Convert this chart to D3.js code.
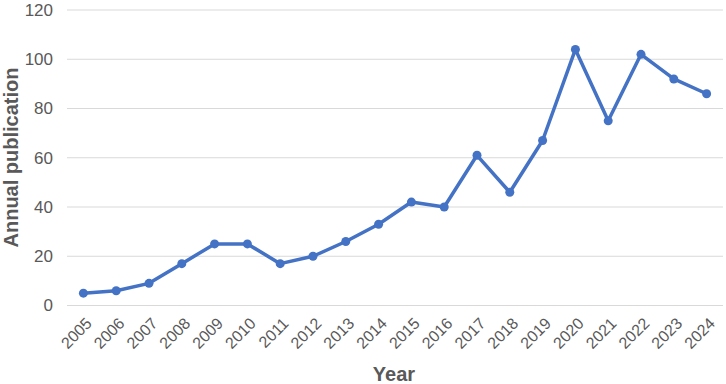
<!DOCTYPE html>
<html>
<head>
<meta charset="utf-8">
<script src="https://cdn.jsdelivr.net/npm/d3@7"></script>
<style>
  body { margin: 0; background: #fff; }
  svg { display: block; font-family: "Liberation Sans", Arial, sans-serif; }
</style>
</head>
<body>
<div id="chart"></div>
<script>
(function () {
  'use strict';

  var years = ['2005', '2006', '2007', '2008', '2009', '2010', '2011', '2012', '2013', '2014',
               '2015', '2016', '2017', '2018', '2019', '2020', '2021', '2022', '2023', '2024'];
  var publications = [5, 6, 9, 17, 25, 25, 17, 20, 26, 33, 42, 40, 61, 46, 67, 104, 75, 102, 92, 86];
  var yTicks = [0, 20, 40, 60, 80, 100, 120];

  var data = years.map(function (y, i) { return { year: y, value: publications[i] }; });

  var width = 726, height = 384;
  var margin = { top: 10, right: 3, bottom: 78.5, left: 67 };
  var iw = width - margin.left - margin.right;
  var ih = height - margin.top - margin.bottom;

  var x = d3.scalePoint().domain(years).range([0, iw]).padding(0.5);
  var y = d3.scaleLinear().domain([0, 120]).range([ih, 0]);

  var svg = d3.select('#chart').append('svg').attr('width', width).attr('height', height);
  var g = svg.append('g').attr('transform', 'translate(' + margin.left + ',' + margin.top + ')');

  // Gridlines
  g.selectAll('.grid').data(yTicks).enter().append('line')
    .attr('x1', 0).attr('x2', iw)
    .attr('y1', function (d) { return y(d); }).attr('y2', function (d) { return y(d); })
    .attr('stroke', '#d9d9d9').attr('stroke-width', 1);

  // Y axis labels
  var yAxis = g.append('g').call(d3.axisLeft(y).tickValues(yTicks).tickSize(0).tickPadding(14));
  yAxis.select('.domain').remove();
  yAxis.selectAll('text').attr('fill', '#595959').attr('font-size', '17px');

  // X axis labels
  var xAxis = g.append('g').attr('transform', 'translate(0,' + ih + ')')
    .call(d3.axisBottom(x).tickSize(0).tickPadding(0));
  xAxis.select('.domain').remove();
  xAxis.selectAll('text')
    .attr('fill', '#595959').attr('font-size', '16px')
    .attr('text-anchor', 'end').attr('dy', '0.35em')
    .attr('transform', 'translate(5,15) rotate(-45)');

  // Line + markers
  var line = d3.line().x(function (d) { return x(d.year); }).y(function (d) { return y(d.value); });
  g.append('path').datum(data).attr('d', line)
    .attr('fill', 'none').attr('stroke', '#4472c4').attr('stroke-width', 3.5)
    .attr('stroke-linejoin', 'round');
  g.selectAll('.dot').data(data).enter().append('circle')
    .attr('cx', function (d) { return x(d.year); })
    .attr('cy', function (d) { return y(d.value); })
    .attr('r', 4.5).attr('fill', '#4472c4');

  // Axis titles
  svg.append('text').attr('x', margin.left + iw / 2 - 1).attr('y', 381)
    .attr('text-anchor', 'middle').attr('font-size', '20px').attr('font-weight', 'bold')
    .attr('fill', '#595959').text('Year');
  svg.append('text').attr('transform', 'translate(18,' + (157.5) + ') rotate(-90)')
    .attr('text-anchor', 'middle').attr('font-size', '20px').attr('font-weight', 'bold')
    .attr('fill', '#595959').text('Annual publication');
})();
</script>
</body>
</html>
